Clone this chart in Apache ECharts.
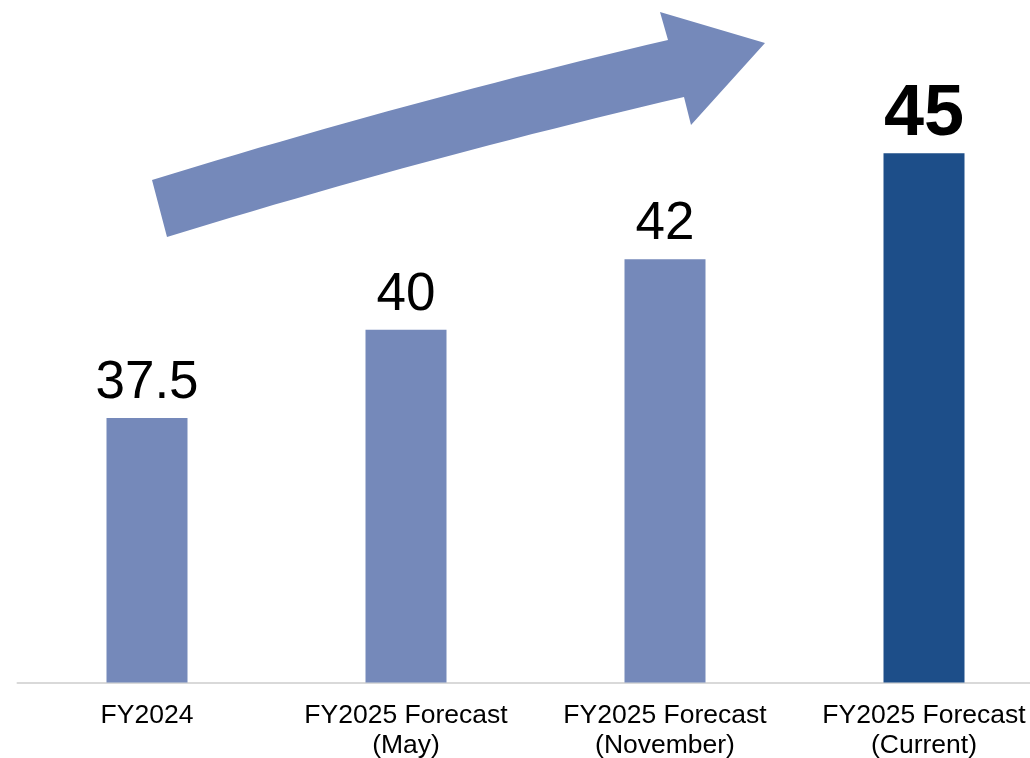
<!DOCTYPE html>
<html>
<head>
<meta charset="utf-8">
<script src="https://cdn.jsdelivr.net/npm/echarts@6/dist/echarts.min.js"></script>
<style>
  html, body { margin: 0; padding: 0; background: #ffffff; }
  #chart { width: 1030px; height: 758px; }
</style>
</head>
<body>
<div id="chart"></div>
<script>
// Dividend per share (yen) by period
const categories = [
  'FY2024',
  'FY2025 Forecast\n(May)',
  'FY2025 Forecast\n(November)',
  'FY2025 Forecast\n(Current)'
];
const values = [37.5, 40, 42, 45];
const highlightIndex = 3;

const FONT = 'Arial, "Liberation Sans", sans-serif';
const LIGHT = '#7589BA';
const DARK = '#1D4E89';

// Sample a quadratic Bezier curve into polygon points
function quad(p0, c, p1, n) {
  const pts = [];
  for (let i = 0; i <= n; i++) {
    const t = i / n, u = 1 - t;
    pts.push([
      u * u * p0[0] + 2 * u * t * c[0] + t * t * p1[0],
      u * u * p0[1] + 2 * u * t * c[1] + t * t * p1[1]
    ]);
  }
  return pts;
}

// Curved trend arrow outline: upper shaft edge, head, lower shaft edge
const arrowPoints = [].concat(
  quad([152, 180], [408, 101], [668, 40], 24),
  [[660, 12], [765, 43], [691, 125]],
  quad([684, 97], [423, 158], [167, 237], 24)
);

const chart = echarts.init(document.getElementById('chart'), null, { renderer: 'canvas' });

const barData = values.map((v, i) => {
  const hl = i === highlightIndex;
  return {
    value: v,
    itemStyle: { color: hl ? DARK : LIGHT },
    label: hl
      ? { fontSize: 72, fontWeight: 'bold', distance: 2 }
      : { fontSize: 53, fontWeight: 'normal', distance: 8 }
  };
});

chart.setOption({
  animation: false,
  backgroundColor: '#ffffff',
  // plot area runs past the right edge so the last column sits in a full-width slot
  grid: {
    left: 17.5, right: -23.5, top: 47.5, bottom: 75.5,
    outerBoundsMode: 'none', containLabel: false
  },
  xAxis: {
    type: 'category',
    data: categories,
    axisLine: { show: true, lineStyle: { color: '#D9D9D9', width: 2 } },
    axisTick: { show: false },
    axisLabel: {
      interval: 0,
      color: '#000000',
      fontFamily: FONT,
      fontSize: 26.5,
      lineHeight: 30,
      margin: 18
    }
  },
  yAxis: {
    type: 'value',
    min: 30,
    max: 48,
    show: false,
    splitLine: { show: false }
  },
  series: [{
    type: 'bar',
    data: barData,
    barWidth: 81,
    label: {
      show: true,
      position: 'top',
      color: '#000000',
      fontFamily: FONT,
      formatter: p => String(p.value)
    }
  }],
  graphic: [{
    type: 'polygon',
    shape: { points: arrowPoints },
    style: { fill: LIGHT },
    z: 10
  }]
});
</script>
</body>
</html>
